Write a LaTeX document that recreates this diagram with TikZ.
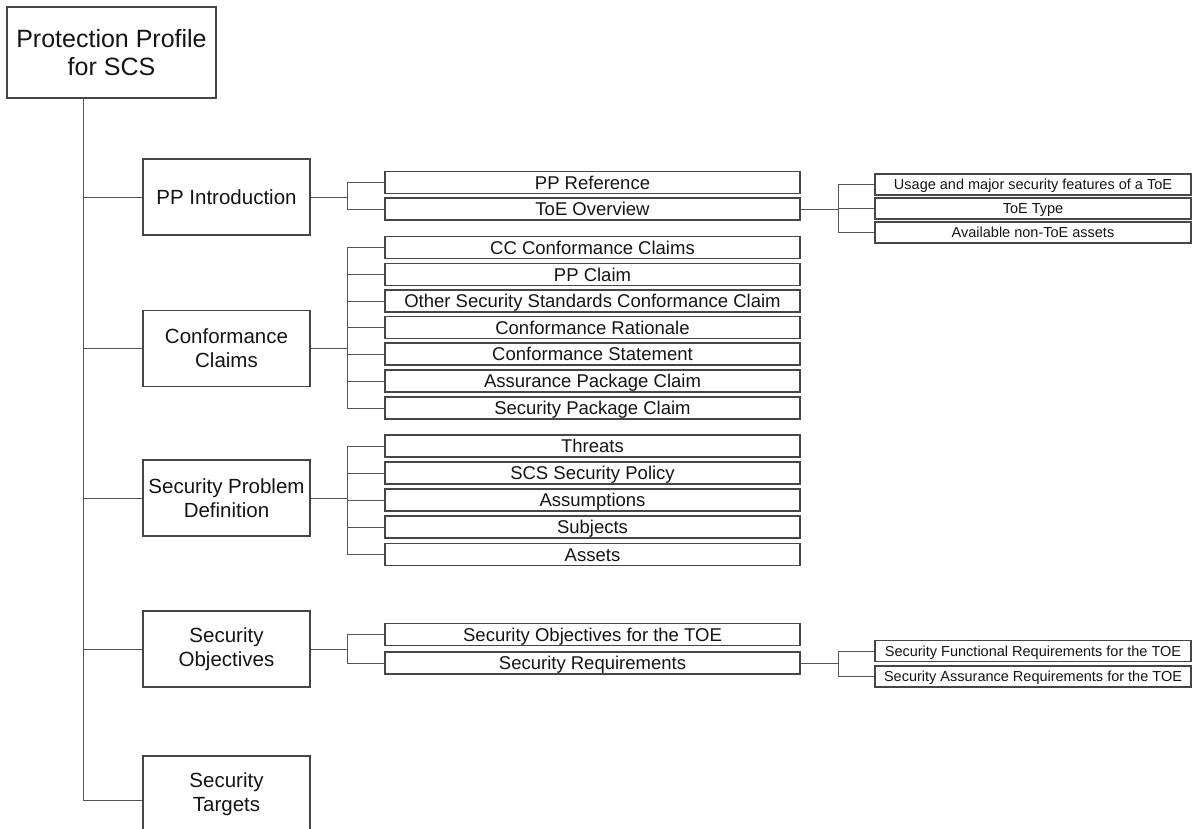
\documentclass[tikz,border=0pt]{standalone}
\usepackage{fontspec}
\setmainfont{Liberation Sans}
\usetikzlibrary{positioning,calc}
\definecolor{ppline}{RGB}{85,85,85}
\definecolor{ppedge}{RGB}{70,70,70}
\definecolor{pptext}{RGB}{20,20,20}

\begin{document}
\begin{tikzpicture}[x=1pt, y=-1pt,
  rootbox/.style={draw=ppedge, line width=1.1pt, minimum width=209pt, minimum height=91pt, align=center, text=pptext, font=\fontsize{25}{28}\selectfont},
  mainbox/.style={draw=ppedge, line width=1.1pt, minimum width=167pt, minimum height=76pt, align=center, text=pptext, font=\fontsize{20.5}{24}\selectfont},
  itembox/.style={draw=ppedge, line width=1.1pt, minimum width=415pt, minimum height=22pt, inner sep=0pt, text height=13.5pt, text depth=0.3pt, text=pptext, font=\fontsize{18.5}{20}\selectfont},
  subbox/.style={draw=ppedge, line width=1.1pt, minimum width=316pt, minimum height=21pt, inner sep=0pt, text height=10.6pt, text depth=0.2pt, text=pptext, font=\fontsize{14.5}{16}\selectfont},
  link/.style={draw=ppline, line width=0.9pt}]
  \useasboundingbox (0,0) rectangle (1193,829);

  % root and first level
  \node[rootbox] (pp) at (111.5,52.5) {Protection Profile\\for SCS};
  \coordinate (trunk) at (83,98);
  \node[mainbox] (intro) at (226.5,197) {PP Introduction};
  \node[mainbox] (conf) at (226.5,348.5) {Conformance\\Claims};
  \node[mainbox] (spd) at (226.5,498) {Security Problem\\Definition};
  \node[mainbox] (obj) at (226.5,649) {Security\\Objectives};
  \node[mainbox] (targets) at (226.5,794) {Security\\Targets};

  % second level
  \node[itembox] (ppref) at (592.5,182.5) {PP Reference};
  \node[itembox] (toeov) at (592.5,209) {ToE Overview};
  \node[itembox] (ccclaim) at (592.5,247.5) {CC Conformance Claims};
  \node[itembox] (ppclaim) at (592.5,274.5) {PP Claim};
  \node[itembox] (otherstd) at (592.5,301) {Other Security Standards Conformance Claim};
  \node[itembox] (rationale) at (592.5,327.5) {Conformance Rationale};
  \node[itembox] (statement) at (592.5,354) {Conformance Statement};
  \node[itembox] (assurpkg) at (592.5,381) {Assurance Package Claim};
  \node[itembox] (secpkg) at (592.5,408) {Security Package Claim};
  \node[itembox] (threats) at (592.5,446) {Threats};
  \node[itembox] (policy) at (592.5,473) {SCS Security Policy};
  \node[itembox] (assume) at (592.5,500) {Assumptions};
  \node[itembox] (subjects) at (592.5,527) {Subjects};
  \node[itembox] (assets) at (592.5,554.5) {Assets};
  \node[itembox] (objtoe) at (592.5,634.5) {Security Objectives for the TOE};
  \node[itembox] (secreq) at (592.5,663) {Security Requirements};

  % third level
  \node[subbox] (usage) at (1033,184.5) {Usage and major security features of a ToE};
  \node[subbox] (toetype) at (1033,208.5) {ToE Type};
  \node[subbox] (nontoe) at (1033,232.5) {Available non-ToE assets};
  \node[subbox] (sfr) at (1033,651) {Security Functional Requirements for the TOE};
  \node[subbox] (sar) at (1033,676.5) {Security Assurance Requirements for the TOE};

  % connectors
  \draw[link] (pp.south -| trunk) -- (trunk);
  \foreach \n in {intro,conf,spd,obj}
    \draw[link] (trunk) |- (\n.west);
  \draw[link] (trunk) |- ([yshift=-6pt]targets.west);

  \foreach \n in {ppref,toeov}
    \draw[link] (intro.east) -- ++(37,0) |- (\n.west);
  \foreach \n in {ccclaim,ppclaim,otherstd,rationale,statement,assurpkg,secpkg}
    \draw[link] (conf.east) -- ++(37,0) |- (\n.west);
  \foreach \n in {threats,policy,assume,subjects,assets}
    \draw[link] (spd.east) -- ++(37,0) |- (\n.west);
  \foreach \n in {objtoe,secreq}
    \draw[link] (obj.east) -- ++(37,0) |- (\n.west);

  \foreach \n in {usage,toetype,nontoe}
    \draw[link] (toeov.east) -- ++(38,0) |- (\n.west);
  \foreach \n in {sfr,sar}
    \draw[link] (secreq.east) -- ++(38,0) |- (\n.west);
\end{tikzpicture}
\end{document}
